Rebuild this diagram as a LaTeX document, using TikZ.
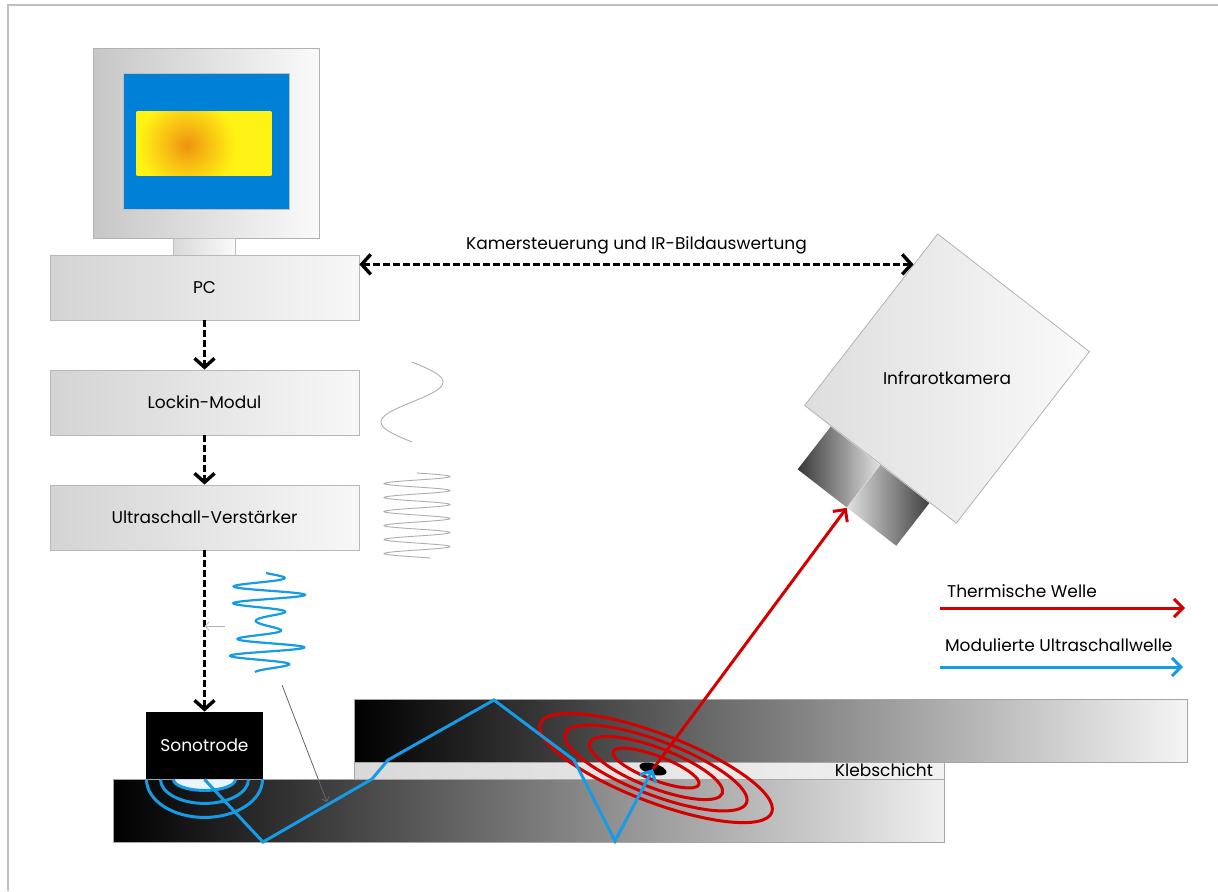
\documentclass[tikz,border=0pt]{standalone}
\usepackage{fontspec}
\setmainfont{Poppins}
\usetikzlibrary{arrows.meta, calc, shapes.geometric}

\definecolor{usblue}{RGB}{22,155,230}
\definecolor{thred}{RGB}{212,0,0}
\definecolor{screenblue}{RGB}{0,128,214}
\definecolor{imgyellow}{RGB}{255,242,20}
\definecolor{imgorange}{RGB}{240,145,18}

\pgfdeclareradialshading{hotspot}{\pgfpoint{0bp}{0bp}}{%
  color(0bp)=(imgorange); color(5bp)=(imgorange!55!imgyellow);
  color(12bp)=(imgyellow); color(50bp)=(imgyellow)}

\tikzset{
  unitbox/.style={draw=black!28, left color=black!17, right color=black!3,
    minimum width=154.5pt, minimum height=32.5pt, inner sep=0pt},
  sonobox/.style={fill=black, text=white, minimum width=58.5pt,
    minimum height=33.5pt, inner sep=0pt},
  plate/.style={draw=black!35, line width=0.4pt, inner sep=0pt, outer sep=0pt},
  camerabody/.style={draw=black!30, line width=0.4pt, left color=black!13,
    right color=black!2, minimum width=96pt, minimum height=108.5pt, inner sep=0pt},
  lenspart/.style={inner sep=0pt, minimum width=31pt, minimum height=27pt},
  ctrlarrow/.style={line width=1.7pt, dash pattern=on 3.5pt off 1.5pt,
    -{Straight Barb[length=4.5pt,width=10pt]}},
  usline/.style={usblue, line width=1.5pt},
  thermoring/.style={thred, line width=1.5pt},
  thermoarrow/.style={thred, line width=1.5pt, -{Straight Barb[length=4.5pt,width=9pt]}},
  sigline/.style={black!32, line width=0.45pt},
  pointer/.style={black!30, line width=0.4pt, -{Straight Barb[length=2pt,width=4pt]}}
}

\begin{document}
\begin{tikzpicture}[x=0.5pt, y=-0.5pt, font=\fontsize{8.5}{10}\selectfont]
  \useasboundingbox (0,0) rectangle (1218,891);
  \draw[black!25, line width=0.6pt] (8,891) -- (8,5) -- (1218,5);

  % monitor with thermogram
  \node[draw=black!30, left color=black!22, right color=black!2, minimum width=113pt,
    minimum height=95pt, inner sep=0pt] (monitor) at (206,143) {};
  \node[draw=black!25, fill=screenblue, minimum width=83pt, minimum height=68pt,
    inner sep=0pt] (screen) at (206,141) {};
  \node[fill=imgyellow, minimum width=67pt, minimum height=31.5pt, inner sep=0pt]
    (thermo) at (204,143.5) {};
  \begin{scope}
    \clip (thermo.south west) rectangle (thermo.north east);
    \shade[shading=hotspot] (187,145) circle (50pt);
  \end{scope}
  \node[draw=black!25, left color=black!15, right color=black!2, minimum width=31pt,
    minimum height=8.5pt, inner sep=0pt] (stand) at (204,246.5) {};

  \draw (204.5,287.5) node[unitbox] (pc) {PC}
    (204.5,402.5) node[unitbox] (lockin) {Lockin-Modul}
    (204.5,517.5) node[unitbox] (amp) {Ultraschall-Verstärker};

  \draw[ctrlarrow] (pc) -- (lockin);
  \draw[ctrlarrow] (lockin) -- (amp);

  % signals
  \draw[sigline] plot[domain=0:80, samples=60, smooth] ({412+31*sin(4.5*\x)}, {362+\x});
  \draw[sigline] plot[domain=0:85, samples=220, smooth] ({417+33*sin(25.7*\x)}, {473+\x});
  \draw[usline, line width=1.1pt] plot[domain=0:99, samples=260, smooth]
    ({266+(24.5+14.5*cos(6.545*(\x-22)))*sin(20.6*\x)}, {573+\x});

  % specimen
  \node[plate, left color=black, right color=black!6, minimum width=415.5pt,
    minimum height=31.5pt] (lower) at (528.5,810.5) {};
  \node[plate, left color=black!15, right color=black!5, minimum width=295pt,
    minimum height=8.5pt] (glue) at (649,770.5) {};
  \node[plate, left color=black, right color=black!4, minimum width=416.5pt,
    minimum height=31.5pt] (upper) at (770.5,730.5) {};
  \node[anchor=east, xshift=-2pt] (gluelbl) at (glue.east) {Klebschicht};

  \node[sonobox] (sono) at (204.5,745.5) {Sonotrode};
  \draw[ctrlarrow] (amp) -- (sono);

  \fill[white!90!usblue] ([xshift=-15.5pt]sono.south)
    arc[start angle=180, end angle=360, x radius=15.5pt, y radius=5.5pt] -- cycle;
  \foreach \rx/\ry in {15.5pt/5.5pt, 22pt/12pt, 29pt/19pt}
    \draw[usline] ([xshift=-\rx]sono.south)
      arc[start angle=180, end angle=360, x radius=\rx, y radius=\ry];

  % thermal rings around the defect
  \begin{scope}[shift={(656,768)}, rotate=-21]
    \foreach \a/\b in {23pt/6pt, 35.5pt/10pt, 48.5pt/13.5pt, 62pt/17pt}
      \draw[thermoring] (0,0) ellipse [x radius=\a, y radius=\b];
  \end{scope}
  \node[ellipse, fill=black, minimum width=14pt, minimum height=5.5pt, inner sep=0pt,
    rotate=-15] (spot) at (653,769) {};

  \draw[usline, -{Straight Barb[length=4.5pt,width=9pt]}] (sono.south) -- (263,842)
    -- (372,779) -- (388,760) -- (494,700) -- (574,760) -- (615,841) -- (spot.center);

  \coordinate (p1) at (225,626);
  \draw[pointer] (p1) -- (p1 -| sono);
  \draw[pointer, black!60] (282,685) -- (327,802);

  % camera
  \node[camerabody, rotate=-37.8] (cam) at (947,378.5) {};
  \node (camlbl) at (cam.center) {Infrarotkamera};
  \node[lenspart, rotate=-37.8, anchor=north east, left color=black!78,
    right color=black!12] (lensL) at (cam.south) {};
  \node[lenspart, rotate=-37.8, anchor=north west, left color=black!12,
    right color=black!75] (lensR) at (cam.south) {};
  \draw[white!80!black, line width=0.3pt] (lensL.north east) -- (lensL.south east);

  \draw[thermoarrow] (spot.center) -- (lensL.south east);

  \coordinate (camctl) at ($(cam.north west)!0.18!(cam.south west)$);
  \draw[ctrlarrow, {Straight Barb[length=4.5pt,width=10pt]}-{Straight Barb[length=4.5pt,width=10pt]}]
    (pc.east |- camctl) -- (camctl)
    node[midway, above=1pt] (ctllbl) {Kamersteuerung und IR-Bildauswertung};

  % legend
  \node[anchor=base west] (thlbl) at (940,597) {Thermische Welle};
  \node[anchor=base west] (uslbl) at (938,651) {Modulierte Ultraschallwelle};
  \coordinate (th1) at (940,608);
  \coordinate (th2) at (1185,608);
  \coordinate (us1) at (940,667);
  \coordinate (us2) at (1183,667);
  \draw[thermoarrow] (th1) -- (th2);
  \draw[usline, -{Straight Barb[length=4.5pt,width=9pt]}] (us1) -- (us2);
\end{tikzpicture}
\end{document}
